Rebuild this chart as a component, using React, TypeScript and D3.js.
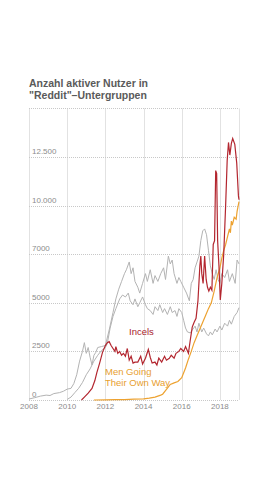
import React from "react";
import * as d3 from "d3";

type Pt = [number, number];

// Data: [decimal year, active users]
const otherUpper: Pt[] = [
  [2008.0, 50], [2008.3, 120], [2008.6, 200], [2008.9, 250], [2009.1, 230], [2009.3, 330],
  [2009.6, 380], [2009.8, 450], [2010.0, 560], [2010.2, 600], [2010.35, 850], [2010.5, 1300],
  [2010.65, 2000], [2010.8, 2500], [2010.9, 2950], [2011.0, 2400], [2011.1, 2700], [2011.2, 2200],
  [2011.3, 1800], [2011.4, 2300], [2011.5, 2450], [2011.6, 2700], [2011.8, 2750], [2012.0, 2800],
  [2012.2, 3600], [2012.4, 4500], [2012.55, 5200], [2012.7, 5700], [2012.85, 6100], [2013.0, 6500],
  [2013.1, 6700], [2013.25, 7100], [2013.35, 6500], [2013.45, 6800], [2013.55, 6100], [2013.7, 5800],
  [2013.8, 5500], [2013.95, 6000], [2014.1, 6500], [2014.2, 6100], [2014.35, 6700], [2014.5, 6000],
  [2014.6, 6400], [2014.75, 6100], [2014.9, 6500], [2015.05, 6800], [2015.15, 6200], [2015.3, 7400],
  [2015.4, 7000], [2015.5, 7200], [2015.6, 6500], [2015.75, 6000], [2015.85, 6300], [2015.95, 6100],
  [2016.1, 5800], [2016.25, 5500], [2016.4, 5100], [2016.5, 6000], [2016.6, 6200], [2016.7, 6800],
  [2016.8, 7100], [2016.9, 7400], [2017.0, 8200], [2017.1, 8700], [2017.2, 8800], [2017.3, 8500],
  [2017.4, 7700], [2017.5, 6900], [2017.6, 6500], [2017.7, 6200], [2017.8, 6700], [2017.9, 6200],
  [2018.0, 6000], [2018.1, 6500], [2018.25, 6300], [2018.4, 6700], [2018.5, 6100], [2018.65, 6500],
  [2018.8, 6000], [2018.9, 7200], [2019.0, 7000],
];

const otherLower: Pt[] = [
  [2010.0, 30], [2010.2, 150], [2010.4, 380], [2010.6, 600], [2010.8, 900], [2011.0, 1300],
  [2011.2, 1600], [2011.4, 2000], [2011.6, 2300], [2011.8, 2550], [2012.0, 2700], [2012.1, 2900],
  [2012.25, 3700], [2012.4, 4300], [2012.55, 4700], [2012.75, 5200], [2012.9, 5400], [2013.05, 5300],
  [2013.2, 5500], [2013.3, 5100], [2013.45, 4900], [2013.55, 5200], [2013.7, 4800], [2013.8, 5000],
  [2013.95, 5300], [2014.1, 4900], [2014.2, 4700], [2014.35, 4600], [2014.5, 4400], [2014.6, 4800],
  [2014.75, 4600], [2014.85, 4900], [2015.0, 4500], [2015.1, 4700], [2015.25, 4400], [2015.4, 4800],
  [2015.5, 4500], [2015.65, 4600], [2015.75, 4300], [2015.85, 4700], [2016.0, 4500], [2016.1, 4100],
  [2016.2, 3700], [2016.3, 3500], [2016.45, 3450], [2016.55, 3600], [2016.7, 3800], [2016.8, 3500],
  [2016.9, 3950], [2017.05, 3500], [2017.15, 3700], [2017.3, 3400], [2017.4, 3300], [2017.5, 3500],
  [2017.6, 3350], [2017.75, 3650], [2017.85, 3500], [2018.0, 3800], [2018.1, 3600], [2018.25, 3950],
  [2018.4, 3800], [2018.5, 4100], [2018.6, 3900], [2018.75, 4300], [2018.9, 4500], [2019.0, 4750],
];

const incels: Pt[] = [
  [2010.75, 0], [2010.9, 150], [2011.1, 350], [2011.3, 600], [2011.45, 1000], [2011.55, 1400],
  [2011.7, 1900], [2011.85, 2450], [2012.0, 2800], [2012.1, 2950], [2012.2, 3000], [2012.3, 2800],
  [2012.4, 2650], [2012.5, 2500], [2012.55, 2750], [2012.65, 2400], [2012.75, 2500], [2012.85, 2300],
  [2012.95, 2400], [2013.05, 2250], [2013.15, 2650], [2013.25, 2050], [2013.35, 2250], [2013.45, 1900],
  [2013.55, 1950], [2013.7, 1950], [2013.85, 2250], [2013.95, 1850], [2014.1, 2150], [2014.25, 2600],
  [2014.35, 2200], [2014.45, 1900], [2014.6, 1950], [2014.7, 1800], [2014.8, 2150], [2014.95, 1950],
  [2015.1, 2250], [2015.2, 2050], [2015.35, 2150], [2015.45, 2300], [2015.6, 2150], [2015.7, 2400],
  [2015.85, 2500], [2015.95, 2650], [2016.1, 2500], [2016.2, 2750], [2016.35, 2400], [2016.45, 3100],
  [2016.55, 3750], [2016.65, 4000], [2016.75, 4200], [2016.85, 5100], [2016.95, 6900], [2017.0, 7400],
  [2017.05, 6500], [2017.12, 6000], [2017.2, 7400], [2017.28, 6200], [2017.35, 5800], [2017.42, 5600],
  [2017.5, 5800], [2017.58, 5650], [2017.65, 8000], [2017.72, 8200], [2017.78, 11800], [2017.83, 11650],
  [2017.88, 8200], [2017.95, 6900], [2018.02, 5150], [2018.1, 6000], [2018.2, 7500], [2018.3, 10000],
  [2018.38, 12300], [2018.45, 13250], [2018.52, 12600], [2018.6, 13200], [2018.67, 13450],
  [2018.78, 13150], [2018.88, 12200], [2018.97, 10500], [2019.0, 10300],
];

const mgtow: Pt[] = [
  [2011.4, 0], [2012.0, 10], [2012.5, 15], [2013.0, 20], [2013.5, 40], [2014.0, 60], [2014.3, 100],
  [2014.6, 150], [2014.9, 250], [2015.0, 300], [2015.2, 550], [2015.4, 800], [2015.6, 880],
  [2015.8, 950], [2016.0, 1150], [2016.2, 1650], [2016.35, 2100], [2016.5, 2500], [2016.65, 2950],
  [2016.8, 3300], [2016.95, 3650], [2017.1, 4000], [2017.25, 4350], [2017.4, 4700], [2017.55, 5000],
  [2017.7, 5600], [2017.85, 6300], [2018.0, 6800], [2018.1, 7300], [2018.2, 7700], [2018.3, 8000],
  [2018.4, 8400], [2018.5, 8800], [2018.55, 8600], [2018.6, 9200], [2018.65, 9000], [2018.75, 9400],
  [2018.85, 9300], [2018.9, 9700], [2019.0, 10200],
];

const xTicks = [2008, 2010, 2012, 2014, 2016, 2018];
const xGridYears = [2008, 2010, 2012, 2014, 2016, 2018, 2019];
const yTicks = [0, 2500, 5000, 7500, 10000, 12500, 15000];
const yTickLabels = ["0", "2500", "5000", "7000", "10.000", "12.500", ""];
const titleLines = ["Anzahl aktiver Nutzer in", "\"Reddit\"–Untergruppen"];
const incelsLabel = ["Incels"];
const mgtowLabel = ["Men Going", "Their Own Way"];

const FONT = "'Liberation Sans', Arial, Helvetica, sans-serif";

export default function App() {
  const x = d3.scaleLinear().domain([2008, 2019]).range([29, 239]);
  const y = d3.scaleLinear().domain([0, 15000]).range([400, 108.4]);
  const line = d3
    .line<Pt>()
    .x((d) => x(d[0]))
    .y((d) => y(d[1]))
    .curve(d3.curveLinear);

  const gray = "#b3b3b3";
  const red = "#b3262f";
  const orange = "#eda230";

  return (
    <svg
      width={270}
      height={480}
      style={{ position: "absolute", left: 0, top: 0, background: "#fff" }}
      fontFamily={FONT}
    >
      <rect x={0} y={0} width={270} height={480} fill="#fff" />
      {titleLines.map((t, i) => (
        <text key={t} x={29} y={87 + i * 12} fontSize={10.5} fontWeight="bold" fill="#5a5a5a">
          {t}
        </text>
      ))}
      {xGridYears.map((yr) => (
        <line
          key={"vx" + yr}
          x1={Math.round(x(yr)) + 0.5}
          x2={Math.round(x(yr)) + 0.5}
          y1={y(15000)}
          y2={y(0)}
          stroke="#e2e2e2"
          strokeWidth={1}
        />
      ))}
      {yTicks.map((v) => (
        <line
          key={"hy" + v}
          x1={x(2008)}
          x2={x(2019)}
          y1={Math.round(y(v)) + 0.5}
          y2={Math.round(y(v)) + 0.5}
          stroke="#c8c8c8"
          strokeWidth={1}
          strokeDasharray="1,1"
        />
      ))}
      {yTicks.map((v, i) => (
        <text key={"yl" + v} x={32} y={y(v) - 3} fontSize={8} fill="#8c8c8c">
          {yTickLabels[i]}
        </text>
      ))}
      {xTicks.map((yr) => (
        <text key={"xl" + yr} x={x(yr)} y={408.5} fontSize={8} fill="#8c8c8c" textAnchor="middle">
          {String(yr)}
        </text>
      ))}
      <path d={line(otherUpper) || ""} fill="none" stroke={gray} strokeWidth={1} />
      <path d={line(otherLower) || ""} fill="none" stroke={gray} strokeWidth={1} />
      <path d={line(mgtow) || ""} fill="none" stroke={orange} strokeWidth={1.2} />
      <path d={line(incels) || ""} fill="none" stroke={red} strokeWidth={1.2} />
      {incelsLabel.map((t) => (
        <text key={t} x={129} y={335} fontSize={9.5} fill="#a8232c">
          {t}
        </text>
      ))}
      {mgtowLabel.map((t, i) => (
        <text key={t} x={105} y={375 + i * 10.5} fontSize={9.5} fill="#e8a030">
          {t}
        </text>
      ))}
    </svg>
  );
}
